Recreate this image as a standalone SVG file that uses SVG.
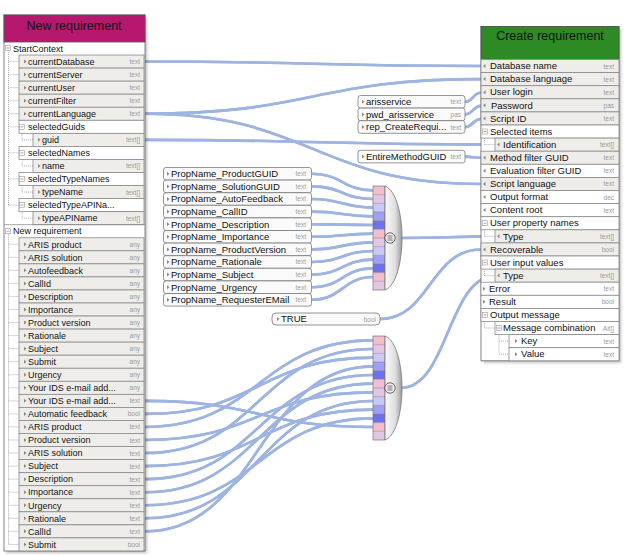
<svg xmlns="http://www.w3.org/2000/svg" xmlns:xlink="http://www.w3.org/1999/xlink" width="628" height="556" viewBox="0 0 628 556">
<style>
.t{font-family:"Liberation Sans",Arial,sans-serif;font-size:9px;fill:#111}
.tm{font-family:"Liberation Sans",Arial,sans-serif;font-size:9.5px;fill:#111}
.tr{font-family:"Liberation Sans",Arial,sans-serif;font-size:9.5px;fill:#111}
.ty{font-family:"Liberation Sans",Arial,sans-serif;font-size:6.5px;fill:#9a9a9a;text-anchor:end}
.hd{font-family:"Liberation Sans",Arial,sans-serif;font-size:12.5px;fill:#111;text-anchor:middle}
.lf{fill:#EFEDEA;stroke:#8a8a8a;stroke-width:.8}
.wh{fill:#fff;stroke:#8a8a8a;stroke-width:.8}
.tl{fill:none;stroke:#9a9a9a;stroke-width:.8;stroke-dasharray:1 1}
.cb{fill:#FAFAFA;stroke:#7a7a7a;stroke-width:.8}
.wo{fill:none;stroke:#9DB3E2;stroke-width:2.6}
.wi{fill:none;stroke:#EEF2FB;stroke-width:.9}
</style>
<defs>
<polygon id="aR" points="0,-2 2.5,0 0,2" fill="#8a8a8a"/>
<polygon id="aL" points="2.5,-2 0,0 2.5,2" fill="#8a8a8a"/>
<g id="ic"><rect x="0" y="0" width="5" height="5" fill="#fff" stroke="#9a9a9a" stroke-width=".6"/><path d="M1 2.5H4" stroke="#666" stroke-width=".6"/></g>
<linearGradient id="lg" x1="0" y1="0" x2="1" y2="0"><stop offset="0" stop-color="#fbfbfb"/><stop offset=".6" stop-color="#dedede"/><stop offset="1" stop-color="#9c9c9c"/></linearGradient>
<filter id="sh" x="-10%" y="-10%" width="130%" height="130%"><feGaussianBlur stdDeviation="1.5"/></filter>
<g id="mg">
<rect x="0" y="0" width="12" height="8.667" fill="#F3BDCB"/>
<rect x="0" y="8.667" width="12" height="8.667" fill="#E3C6E2"/>
<rect x="0" y="17.333" width="12" height="8.667" fill="#C9C8F6"/>
<rect x="0" y="26" width="12" height="8.667" fill="#9F9FF3"/>
<rect x="0" y="34.667" width="12" height="8.667" fill="#7070EC"/>
<rect x="0" y="43.333" width="12" height="8.667" fill="#F3BDCB"/>
<rect x="0" y="52" width="12" height="8.667" fill="#E3C6E2"/>
<rect x="0" y="60.667" width="12" height="8.667" fill="#C9C8F6"/>
<rect x="0" y="69.333" width="12" height="8.667" fill="#9F9FF3"/>
<rect x="0" y="78" width="12" height="8.667" fill="#7070EC"/>
<rect x="0" y="86.667" width="12" height="8.667" fill="#F3BDCB"/>
<rect x="0" y="95.333" width="12" height="8.667" fill="#E3C6E2"/>
<path d="M0 8.667H12M0 17.333H12M0 26H12M0 34.667H12M0 43.333H12M0 52H12M0 60.667H12M0 69.333H12M0 78H12M0 86.667H12M0 95.333H12" stroke="#8a7a9a" stroke-width=".5"/>
<rect x="0" y="0" width="12" height="104" fill="none" stroke="#777" stroke-width=".7"/>
<path d="M12,0 C23,4 29,28 29,52 C29,76 23,100 12,104 Z" fill="url(#lg)" stroke="#777" stroke-width=".8"/>
<circle cx="17" cy="52" r="5.2" fill="#eee" stroke="#444" stroke-width=".8"/>
<path d="M14.5 50H19.5M14.5 52H19.5M14.5 54H19.5" stroke="#444" stroke-width=".7"/>
</g>
</defs>

<!-- connectors -->
<g id="connectors">
<g id="wires">
<path id="c1" class="wo" d="M145,61.5 C313,61.5 313,66.05 481,66.05"/>
<path id="c2" class="wo" d="M145,113.8 C313,113.8 313,79.15 481,79.15"/>
<path id="c3" class="wo" d="M145,113.8 C313,113.8 313,183.95 481,183.95"/>
<path id="c4" class="wo" d="M145,139.9 C320,139.9 320,144.65 496,144.65"/>
<path id="c5" class="wo" d="M465,101.8 C473,101.8 473,92.75 481,92.75"/>
<path id="c6" class="wo" d="M465,114.4 C473,114.4 473,105.85 481,105.85"/>
<path id="c7" class="wo" d="M465,127 C473,127 473,118.95 481,118.95"/>
<path id="c8" class="wo" d="M465,156.6 C473,156.6 473,157.75 481,157.75"/>
<path id="p0" class="wo" d="M312,173.8 C342,173.8 343,190.33 373,190.33"/>
<path id="p1" class="wo" d="M312,186.4 C342,186.4 343,199 373,199"/>
<path id="p2" class="wo" d="M312,199 C342,199 343,207.67 373,207.67"/>
<path id="p3" class="wo" d="M312,211.6 C342,211.6 343,216.33 373,216.33"/>
<path id="p4" class="wo" d="M312,224.2 C342,224.2 343,225 373,225"/>
<path id="p5" class="wo" d="M312,236.8 C342,236.8 343,233.67 373,233.67"/>
<path id="p6" class="wo" d="M312,249.4 C342,249.4 343,242.33 373,242.33"/>
<path id="p7" class="wo" d="M312,262 C342,262 343,251 373,251"/>
<path id="p8" class="wo" d="M312,274.6 C342,274.6 343,259.67 373,259.67"/>
<path id="p9" class="wo" d="M312,287.2 C342,287.2 343,268.33 373,268.33"/>
<path id="p10" class="wo" d="M312,299.8 C342,299.8 343,277 373,277"/>
<path id="m1o" class="wo" d="M401,238 C448,238 448,236.35 496,236.35"/>
<path id="tru" class="wo" d="M380,319 C430,319 430,249.45 481,249.45"/>
<path id="m2o" class="wo" d="M401,388 C448,388 448,275.65 496,275.65"/>
<path id="v0" class="wo" d="M145,426.97 C259,426.97 259,340.33 373,340.33"/>
<path id="v1" class="wo" d="M145,453.07 C259,453.07 259,349 373,349"/>
<path id="v2" class="wo" d="M145,413.92 C259,413.92 259,357.67 373,357.67"/>
<path id="v3" class="wo" d="M145,531.37 C259,531.37 259,366.33 373,366.33"/>
<path id="v4" class="wo" d="M145,479.17 C259,479.17 259,375 373,375"/>
<path id="v5" class="wo" d="M145,492.22 C259,492.22 259,383.67 373,383.67"/>
<path id="v6" class="wo" d="M145,440.02 C259,440.02 259,392.33 373,392.33"/>
<path id="v7" class="wo" d="M145,518.32 C259,518.32 259,401 373,401"/>
<path id="v8" class="wo" d="M145,466.12 C259,466.12 259,409.67 373,409.67"/>
<path id="v9" class="wo" d="M145,505.27 C259,505.27 259,418.33 373,418.33"/>
<path id="v10" class="wo" d="M145,400.87 C259,400.87 259,427 373,427"/>
</g>
<g id="wire-highlights">
<use href="#c1" class="wi"/><use href="#c2" class="wi"/><use href="#c3" class="wi"/><use href="#c4" class="wi"/>
<use href="#c5" class="wi"/><use href="#c6" class="wi"/><use href="#c7" class="wi"/><use href="#c8" class="wi"/>
<use href="#p0" class="wi"/><use href="#p1" class="wi"/><use href="#p2" class="wi"/><use href="#p3" class="wi"/>
<use href="#p4" class="wi"/><use href="#p5" class="wi"/><use href="#p6" class="wi"/><use href="#p7" class="wi"/>
<use href="#p8" class="wi"/><use href="#p9" class="wi"/><use href="#p10" class="wi"/>
<use href="#m1o" class="wi"/><use href="#tru" class="wi"/><use href="#m2o" class="wi"/>
<use href="#v0" class="wi"/><use href="#v1" class="wi"/><use href="#v2" class="wi"/><use href="#v3" class="wi"/>
<use href="#v4" class="wi"/><use href="#v5" class="wi"/><use href="#v6" class="wi"/><use href="#v7" class="wi"/>
<use href="#v8" class="wi"/><use href="#v9" class="wi"/><use href="#v10" class="wi"/>
</g>
</g>

<!-- left panel -->
<g id="new-requirement">
<rect x="6" y="17" width="141" height="536" fill="#000" opacity=".25" filter="url(#sh)"/>
<rect x="4" y="15" width="141" height="536" fill="#fff" stroke="#666" stroke-width=".8"/>
<rect x="4" y="15" width="141" height="27" fill="#B4196E" stroke="#555" stroke-width=".8"/>
<text class="hd" x="74" y="29.5">New requirement</text>
<path class="tl" d="M8.5 50V205.1M22 129.3V139.85M22 155.4V165.95M22 181.5V192.05M22 207.6V218.15M8.5 232.7V544.4"/>
<g transform="translate(0,42)"><use href="#ic" x="5.5" y="3.5"/><text class="t" x="13" y="9.8">StartContext</text></g>
<g transform="translate(0,55.05)"><path class="tl" d="M8.5 6.5H19"/><rect class="lf" x="19" width="125" height="13.05"/><use href="#aR" x="24" y="6.5"/><text class="t" x="28" y="9.8">currentDatabase</text><text class="ty" x="140" y="9">text</text></g>
<g transform="translate(0,68.1)"><path class="tl" d="M8.5 6.5H19"/><rect class="lf" x="19" width="125" height="13.05"/><use href="#aR" x="24" y="6.5"/><text class="t" x="28" y="9.8">currentServer</text><text class="ty" x="140" y="9">text</text></g>
<g transform="translate(0,81.15)"><path class="tl" d="M8.5 6.5H19"/><rect class="lf" x="19" width="125" height="13.05"/><use href="#aR" x="24" y="6.5"/><text class="t" x="28" y="9.8">currentUser</text><text class="ty" x="140" y="9">text</text></g>
<g transform="translate(0,94.2)"><path class="tl" d="M8.5 6.5H19"/><rect class="lf" x="19" width="125" height="13.05"/><use href="#aR" x="24" y="6.5"/><text class="t" x="28" y="9.8">currentFilter</text><text class="ty" x="140" y="9">text</text></g>
<g transform="translate(0,107.25)"><path class="tl" d="M8.5 6.5H19"/><rect class="lf" x="19" width="125" height="13.05"/><use href="#aR" x="24" y="6.5"/><text class="t" x="28" y="9.8">currentLanguage</text><text class="ty" x="140" y="9">text</text></g>
<g transform="translate(0,120.3)"><path class="tl" d="M8.5 6.5H19"/><rect class="wh" x="19" width="125" height="13.05"/><use href="#ic" x="19.5" y="4"/><text class="t" x="28" y="9.8">selectedGuids</text></g>
<g transform="translate(0,133.35)"><path class="tl" d="M22 6.5H33"/><rect class="lf" x="33" width="111" height="13.05"/><use href="#aR" x="38" y="6.5"/><text class="t" x="42" y="9.8">guid</text><text class="ty" x="140" y="9">text[]</text></g>
<g transform="translate(0,146.4)"><path class="tl" d="M8.5 6.5H19"/><rect class="wh" x="19" width="125" height="13.05"/><use href="#ic" x="19.5" y="4"/><text class="t" x="28" y="9.8">selectedNames</text></g>
<g transform="translate(0,159.45)"><path class="tl" d="M22 6.5H33"/><rect class="lf" x="33" width="111" height="13.05"/><use href="#aR" x="38" y="6.5"/><text class="t" x="42" y="9.8">name</text><text class="ty" x="140" y="9">text[]</text></g>
<g transform="translate(0,172.5)"><path class="tl" d="M8.5 6.5H19"/><rect class="wh" x="19" width="125" height="13.05"/><use href="#ic" x="19.5" y="4"/><text class="t" x="28" y="9.8">selectedTypeNames</text></g>
<g transform="translate(0,185.55)"><path class="tl" d="M22 6.5H33"/><rect class="lf" x="33" width="111" height="13.05"/><use href="#aR" x="38" y="6.5"/><text class="t" x="42" y="9.8">typeName</text><text class="ty" x="140" y="9">text[]</text></g>
<g transform="translate(0,198.6)"><path class="tl" d="M8.5 6.5H19"/><rect class="wh" x="19" width="125" height="13.05"/><use href="#ic" x="19.5" y="4"/><text class="t" x="28" y="9.8">selectedTypeAPINa...</text></g>
<g transform="translate(0,211.65)"><path class="tl" d="M22 6.5H33"/><rect class="lf" x="33" width="111" height="13.05"/><use href="#aR" x="38" y="6.5"/><text class="t" x="42" y="9.8">typeAPIName</text><text class="ty" x="140" y="9">text[]</text></g>
<g transform="translate(0,224.7)"><path d="M4 0H145" stroke="#8a8a8a" stroke-width=".8"/><use href="#ic" x="5.5" y="4"/><text class="t" x="13" y="9.8">New requirement</text></g>
<g transform="translate(0,237.75)"><path class="tl" d="M8.5 6.5H19"/><rect class="lf" x="19" width="125" height="13.05"/><use href="#aR" x="24" y="6.5"/><text class="t" x="28" y="9.8">ARIS product</text><text class="ty" x="140" y="9">any</text></g>
<g transform="translate(0,250.8)"><path class="tl" d="M8.5 6.5H19"/><rect class="lf" x="19" width="125" height="13.05"/><use href="#aR" x="24" y="6.5"/><text class="t" x="28" y="9.8">ARIS solution</text><text class="ty" x="140" y="9">any</text></g>
<g transform="translate(0,263.85)"><path class="tl" d="M8.5 6.5H19"/><rect class="lf" x="19" width="125" height="13.05"/><use href="#aR" x="24" y="6.5"/><text class="t" x="28" y="9.8">Autofeedback</text><text class="ty" x="140" y="9">any</text></g>
<g transform="translate(0,276.9)"><path class="tl" d="M8.5 6.5H19"/><rect class="lf" x="19" width="125" height="13.05"/><use href="#aR" x="24" y="6.5"/><text class="t" x="28" y="9.8">CallId</text><text class="ty" x="140" y="9">any</text></g>
<g transform="translate(0,289.95)"><path class="tl" d="M8.5 6.5H19"/><rect class="lf" x="19" width="125" height="13.05"/><use href="#aR" x="24" y="6.5"/><text class="t" x="28" y="9.8">Description</text><text class="ty" x="140" y="9">any</text></g>
<g transform="translate(0,303)"><path class="tl" d="M8.5 6.5H19"/><rect class="lf" x="19" width="125" height="13.05"/><use href="#aR" x="24" y="6.5"/><text class="t" x="28" y="9.8">Importance</text><text class="ty" x="140" y="9">any</text></g>
<g transform="translate(0,316.05)"><path class="tl" d="M8.5 6.5H19"/><rect class="lf" x="19" width="125" height="13.05"/><use href="#aR" x="24" y="6.5"/><text class="t" x="28" y="9.8">Product version</text><text class="ty" x="140" y="9">any</text></g>
<g transform="translate(0,329.1)"><path class="tl" d="M8.5 6.5H19"/><rect class="lf" x="19" width="125" height="13.05"/><use href="#aR" x="24" y="6.5"/><text class="t" x="28" y="9.8">Rationale</text><text class="ty" x="140" y="9">any</text></g>
<g transform="translate(0,342.15)"><path class="tl" d="M8.5 6.5H19"/><rect class="lf" x="19" width="125" height="13.05"/><use href="#aR" x="24" y="6.5"/><text class="t" x="28" y="9.8">Subject</text><text class="ty" x="140" y="9">any</text></g>
<g transform="translate(0,355.2)"><path class="tl" d="M8.5 6.5H19"/><rect class="lf" x="19" width="125" height="13.05"/><use href="#aR" x="24" y="6.5"/><text class="t" x="28" y="9.8">Submit</text><text class="ty" x="140" y="9">any</text></g>
<g transform="translate(0,368.25)"><path class="tl" d="M8.5 6.5H19"/><rect class="lf" x="19" width="125" height="13.05"/><use href="#aR" x="24" y="6.5"/><text class="t" x="28" y="9.8">Urgency</text><text class="ty" x="140" y="9">any</text></g>
<g transform="translate(0,381.3)"><path class="tl" d="M8.5 6.5H19"/><rect class="lf" x="19" width="125" height="13.05"/><use href="#aR" x="24" y="6.5"/><text class="t" x="28" y="9.8">Your IDS e-mail add...</text><text class="ty" x="140" y="9">any</text></g>
<g transform="translate(0,394.35)"><path class="tl" d="M8.5 6.5H19"/><rect class="lf" x="19" width="125" height="13.05"/><use href="#aR" x="24" y="6.5"/><text class="t" x="28" y="9.8">Your IDS e-mail add...</text><text class="ty" x="140" y="9">text</text></g>
<g transform="translate(0,407.4)"><path class="tl" d="M8.5 6.5H19"/><rect class="lf" x="19" width="125" height="13.05"/><use href="#aR" x="24" y="6.5"/><text class="t" x="28" y="9.8">Automatic feedback</text><text class="ty" x="140" y="9">bool</text></g>
<g transform="translate(0,420.45)"><path class="tl" d="M8.5 6.5H19"/><rect class="lf" x="19" width="125" height="13.05"/><use href="#aR" x="24" y="6.5"/><text class="t" x="28" y="9.8">ARIS product</text><text class="ty" x="140" y="9">text</text></g>
<g transform="translate(0,433.5)"><path class="tl" d="M8.5 6.5H19"/><rect class="lf" x="19" width="125" height="13.05"/><use href="#aR" x="24" y="6.5"/><text class="t" x="28" y="9.8">Product version</text><text class="ty" x="140" y="9">text</text></g>
<g transform="translate(0,446.55)"><path class="tl" d="M8.5 6.5H19"/><rect class="lf" x="19" width="125" height="13.05"/><use href="#aR" x="24" y="6.5"/><text class="t" x="28" y="9.8">ARIS solution</text><text class="ty" x="140" y="9">text</text></g>
<g transform="translate(0,459.6)"><path class="tl" d="M8.5 6.5H19"/><rect class="lf" x="19" width="125" height="13.05"/><use href="#aR" x="24" y="6.5"/><text class="t" x="28" y="9.8">Subject</text><text class="ty" x="140" y="9">text</text></g>
<g transform="translate(0,472.65)"><path class="tl" d="M8.5 6.5H19"/><rect class="lf" x="19" width="125" height="13.05"/><use href="#aR" x="24" y="6.5"/><text class="t" x="28" y="9.8">Description</text><text class="ty" x="140" y="9">text</text></g>
<g transform="translate(0,485.7)"><path class="tl" d="M8.5 6.5H19"/><rect class="lf" x="19" width="125" height="13.05"/><use href="#aR" x="24" y="6.5"/><text class="t" x="28" y="9.8">Importance</text><text class="ty" x="140" y="9">text</text></g>
<g transform="translate(0,498.75)"><path class="tl" d="M8.5 6.5H19"/><rect class="lf" x="19" width="125" height="13.05"/><use href="#aR" x="24" y="6.5"/><text class="t" x="28" y="9.8">Urgency</text><text class="ty" x="140" y="9">text</text></g>
<g transform="translate(0,511.8)"><path class="tl" d="M8.5 6.5H19"/><rect class="lf" x="19" width="125" height="13.05"/><use href="#aR" x="24" y="6.5"/><text class="t" x="28" y="9.8">Rationale</text><text class="ty" x="140" y="9">text</text></g>
<g transform="translate(0,524.85)"><path class="tl" d="M8.5 6.5H19"/><rect class="lf" x="19" width="125" height="13.05"/><use href="#aR" x="24" y="6.5"/><text class="t" x="28" y="9.8">CallId</text><text class="ty" x="140" y="9">text</text></g>
<g transform="translate(0,537.9)"><path class="tl" d="M8.5 6.5H19"/><rect class="lf" x="19" width="125" height="13.05"/><use href="#aR" x="24" y="6.5"/><text class="t" x="28" y="9.8">Submit</text><text class="ty" x="140" y="9">bool</text></g>
</g>

<!-- right panel -->
<g id="create-requirement">
<rect x="483" y="28.5" width="138" height="334.3" fill="#000" opacity=".25" filter="url(#sh)"/>
<rect x="481" y="26.5" width="138" height="334.3" fill="#fff" stroke="#666" stroke-width=".8"/>
<rect x="481" y="26.5" width="138" height="33" fill="#2D8A25" stroke="#555" stroke-width=".8"/>
<text class="hd" x="550" y="40">Create requirement</text>
<path class="tl" d="M484.5 134V144.65M484.5 225.7V236.35M484.5 265V275.65M484.5 317.4V328.05M499 330.5V354.25"/>
<g transform="translate(0,59.5)"><rect class="lf" x="481" width="138" height="13.1"/><use href="#aL" x="483" y="6.5"/><text class="tr" x="490" y="9.8">Database name</text><text class="ty" x="614" y="9">text</text></g>
<g transform="translate(0,72.6)"><rect class="lf" x="481" width="138" height="13.1"/><use href="#aL" x="483" y="6.5"/><text class="tr" x="490" y="9.8">Database language</text><text class="ty" x="614" y="9">text</text></g>
<g transform="translate(0,85.7)"><rect class="lf" x="481" width="138" height="13.1"/><use href="#aL" x="483" y="6.5"/><text class="tr" x="490" y="9.8">User login</text><text class="ty" x="614" y="9">text</text></g>
<g transform="translate(0,98.8)"><rect class="lf" x="481" width="138" height="13.1"/><use href="#aL" x="483" y="6.5"/><text class="tr" x="491" y="9.8">Password</text><text class="ty" x="614" y="9">pas</text></g>
<g transform="translate(0,111.9)"><rect class="lf" x="481" width="138" height="13.1"/><use href="#aL" x="483" y="6.5"/><text class="tr" x="490" y="9.8">Script ID</text><text class="ty" x="614" y="9">text</text></g>
<g transform="translate(0,125)"><rect class="wh" x="481" width="138" height="13.1"/><use href="#ic" x="482.5" y="4"/><text class="tr" x="490" y="9.8">Selected items</text></g>
<g transform="translate(0,138.1)"><path class="tl" d="M484.5 6.5H495"/><rect class="lf" x="495" width="124" height="13.1"/><use href="#aL" x="497" y="6.5"/><text class="tr" x="503" y="9.8">Identification</text><text class="ty" x="614" y="9">text[]</text></g>
<g transform="translate(0,151.2)"><rect class="lf" x="481" width="138" height="13.1"/><use href="#aL" x="483" y="6.5"/><text class="tr" x="490" y="9.8">Method filter GUID</text><text class="ty" x="614" y="9">text</text></g>
<g transform="translate(0,164.3)"><rect class="wh" x="481" width="138" height="13.1"/><use href="#aL" x="483" y="6.5"/><text class="tr" x="490" y="9.8">Evaluation filter GUID</text><text class="ty" x="614" y="9">text</text></g>
<g transform="translate(0,177.4)"><rect class="lf" x="481" width="138" height="13.1"/><use href="#aL" x="483" y="6.5"/><text class="tr" x="490" y="9.8">Script language</text><text class="ty" x="614" y="9">text</text></g>
<g transform="translate(0,190.5)"><rect class="wh" x="481" width="138" height="13.1"/><use href="#aL" x="483" y="6.5"/><text class="tr" x="490" y="9.8">Output format</text><text class="ty" x="614" y="9">dec</text></g>
<g transform="translate(0,203.6)"><rect class="wh" x="481" width="138" height="13.1"/><use href="#aL" x="483" y="6.5"/><text class="tr" x="490" y="9.8">Content root</text><text class="ty" x="614" y="9">text</text></g>
<g transform="translate(0,216.7)"><rect class="wh" x="481" width="138" height="13.1"/><use href="#ic" x="482.5" y="4"/><text class="tr" x="490" y="9.8">User property names</text></g>
<g transform="translate(0,229.8)"><path class="tl" d="M484.5 6.5H495"/><rect class="lf" x="495" width="124" height="13.1"/><use href="#aL" x="497" y="6.5"/><text class="tr" x="503" y="9.8">Type</text><text class="ty" x="614" y="9">text[]</text></g>
<g transform="translate(0,242.9)"><rect class="lf" x="481" width="138" height="13.1"/><use href="#aL" x="483" y="6.5"/><text class="tr" x="490" y="9.8">Recoverable</text><text class="ty" x="614" y="9">bool</text></g>
<g transform="translate(0,256)"><rect class="wh" x="481" width="138" height="13.1"/><use href="#ic" x="482.5" y="4"/><text class="tr" x="490" y="9.8">User input values</text></g>
<g transform="translate(0,269.1)"><path class="tl" d="M484.5 6.5H495"/><rect class="lf" x="495" width="124" height="13.1"/><use href="#aL" x="497" y="6.5"/><text class="tr" x="503" y="9.8">Type</text><text class="ty" x="614" y="9">text[]</text></g>
<g transform="translate(0,282.2)"><rect class="wh" x="481" width="138" height="13.1"/><use href="#aR" x="483" y="6.5"/><text class="tr" x="489" y="9.8">Error</text><text class="ty" x="614" y="9">text</text></g>
<g transform="translate(0,295.3)"><rect class="wh" x="481" width="138" height="13.1"/><use href="#aR" x="483" y="6.5"/><text class="tr" x="489" y="9.8">Result</text><text class="ty" x="614" y="9">bool</text></g>
<g transform="translate(0,308.4)"><rect class="wh" x="481" width="138" height="13.1"/><use href="#ic" x="482.5" y="4"/><text class="tr" x="490" y="9.8">Output message</text></g>
<g transform="translate(0,321.5)"><path class="tl" d="M484.5 6.5H495"/><rect class="wh" x="495" width="124" height="13.1"/><use href="#ic" x="496.5" y="4"/><text class="tr" x="503" y="9.8">Message combination</text><text class="ty" x="614" y="9">Alt[]</text></g>
<g transform="translate(0,334.6)"><path class="tl" d="M499 6.5H509"/><rect class="wh" x="509" width="110" height="13.1"/><use href="#aR" x="515" y="6.5"/><text class="tr" x="521" y="9.8">Key</text><text class="ty" x="614" y="9">text</text></g>
<g transform="translate(0,347.7)"><path class="tl" d="M499 6.5H509"/><rect class="wh" x="509" width="110" height="13.1"/><use href="#aR" x="515" y="6.5"/><text class="tr" x="521" y="9.8">Value</text><text class="ty" x="614" y="9">text</text></g>
</g>

<!-- constants -->
<g id="const-arisservice"><rect class="cb" x="358" y="95.5" width="107" height="12.6" rx="2.5"/><use href="#aR" x="362" y="101.8"/><text class="tm" x="366" y="105.1">arisservice</text><text class="ty" x="461" y="104.3">text</text></g>
<g id="const-pwd"><rect class="cb" x="358" y="108.1" width="107" height="12.6" rx="2.5"/><use href="#aR" x="362" y="114.4"/><text class="tm" x="366" y="117.7">pwd_arisservice</text><text class="ty" x="461" y="116.9">pas</text></g>
<g id="const-rep"><rect class="cb" x="358" y="120.7" width="107" height="12.6" rx="2.5"/><use href="#aR" x="362" y="127"/><text class="tm" x="366" y="130.3">rep_CreateRequi...</text><text class="ty" x="461" y="129.5">text</text></g>
<g id="const-entire"><rect class="cb" x="358" y="150.3" width="107" height="12.6" rx="2.5"/><use href="#aR" x="362" y="156.6"/><text class="tm" x="366" y="159.9">EntireMethodGUID</text><text class="ty" x="461" y="159.1">text</text></g>

<g id="prop-names">
<g id="pn0" transform="translate(0,167.5)"><rect class="cb" x="163.5" width="148" height="12.6" rx="2.5"/><use href="#aR" x="167" y="6.3"/><text class="tm" x="171" y="9.7">PropName_ProductGUID</text><text class="ty" x="306" y="8.8">text</text></g>
<g id="pn1" transform="translate(0,180.1)"><rect class="cb" x="163.5" width="148" height="12.6" rx="2.5"/><use href="#aR" x="167" y="6.3"/><text class="tm" x="171" y="9.7">PropName_SolutionGUID</text><text class="ty" x="306" y="8.8">text</text></g>
<g id="pn2" transform="translate(0,192.7)"><rect class="cb" x="163.5" width="148" height="12.6" rx="2.5"/><use href="#aR" x="167" y="6.3"/><text class="tm" x="171" y="9.7">PropName_AutoFeedback</text><text class="ty" x="306" y="8.8">text</text></g>
<g id="pn3" transform="translate(0,205.3)"><rect class="cb" x="163.5" width="148" height="12.6" rx="2.5"/><use href="#aR" x="167" y="6.3"/><text class="tm" x="171" y="9.7">PropName_CallID</text><text class="ty" x="306" y="8.8">text</text></g>
<g id="pn4" transform="translate(0,217.9)"><rect class="cb" x="163.5" width="148" height="12.6" rx="2.5"/><use href="#aR" x="167" y="6.3"/><text class="tm" x="171" y="9.7">PropName_Description</text><text class="ty" x="306" y="8.8">text</text></g>
<g id="pn5" transform="translate(0,230.5)"><rect class="cb" x="163.5" width="148" height="12.6" rx="2.5"/><use href="#aR" x="167" y="6.3"/><text class="tm" x="171" y="9.7">PropName_Importance</text><text class="ty" x="306" y="8.8">text</text></g>
<g id="pn6" transform="translate(0,243.1)"><rect class="cb" x="163.5" width="148" height="12.6" rx="2.5"/><use href="#aR" x="167" y="6.3"/><text class="tm" x="171" y="9.7">PropName_ProductVersion</text><text class="ty" x="306" y="8.8">text</text></g>
<g id="pn7" transform="translate(0,255.7)"><rect class="cb" x="163.5" width="148" height="12.6" rx="2.5"/><use href="#aR" x="167" y="6.3"/><text class="tm" x="171" y="9.7">PropName_Rationale</text><text class="ty" x="306" y="8.8">text</text></g>
<g id="pn8" transform="translate(0,268.3)"><rect class="cb" x="163.5" width="148" height="12.6" rx="2.5"/><use href="#aR" x="167" y="6.3"/><text class="tm" x="171" y="9.7">PropName_Subject</text><text class="ty" x="306" y="8.8">text</text></g>
<g id="pn9" transform="translate(0,280.9)"><rect class="cb" x="163.5" width="148" height="12.6" rx="2.5"/><use href="#aR" x="167" y="6.3"/><text class="tm" x="171" y="9.7">PropName_Urgency</text><text class="ty" x="306" y="8.8">text</text></g>
<g id="pn10" transform="translate(0,293.5)"><rect class="cb" x="163.5" width="148" height="12.6" rx="2.5"/><use href="#aR" x="167" y="6.3"/><text class="tm" x="171" y="9.7">PropName_RequesterEMail</text><text class="ty" x="306" y="8.8">text</text></g>
</g>

<g id="const-true"><rect class="cb" x="272" y="313" width="108" height="12" rx="4"/><use href="#aR" x="277" y="319"/><text class="tm" x="281" y="322.3">TRUE</text><text class="ty" x="376" y="321.5">bool</text></g>

<g id="merge-1"><use href="#mg" x="373" y="186"/></g>
<g id="merge-2"><use href="#mg" x="373" y="336"/></g>
</svg>
